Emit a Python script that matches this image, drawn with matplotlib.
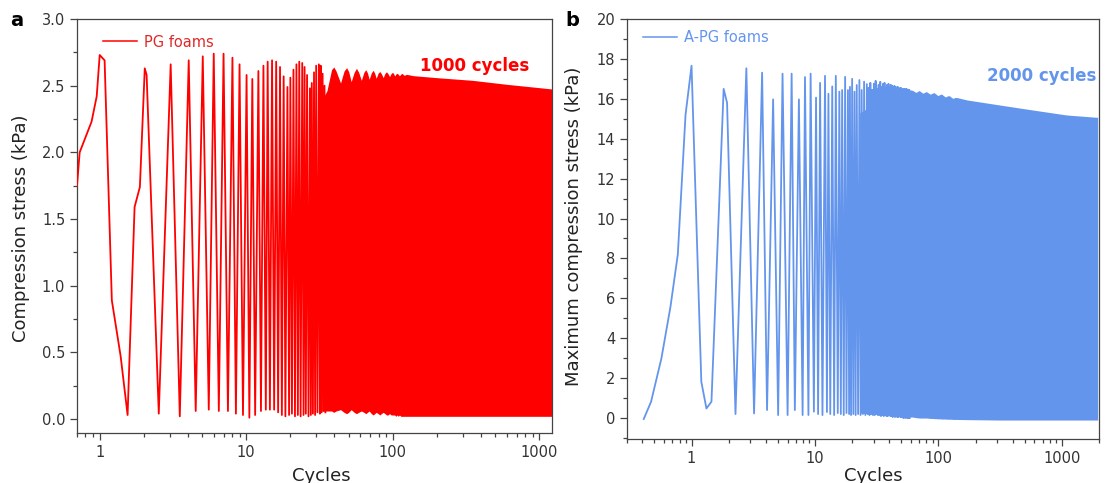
import numpy as np
import matplotlib
matplotlib.use("Agg")
import matplotlib.pyplot as plt
from matplotlib.ticker import LogLocator, NullFormatter, FuncFormatter, MultipleLocator

# ---------------- data : panel a (PG foams) ----------------
pg_ramp_t = [0.70, 0.73, 0.88, 0.954, 1.0, 1.08, 1.21, 1.39, 1.55, 1.73, 1.88, 2.03, 2.09]
pg_ramp_v = [1.75, 2.00, 2.23, 2.42, 2.73, 2.69, 0.89, 0.47, 0.03, 1.59, 1.74, 2.63, 2.58]
pg_peak_t = [3.05, 4.05, 5.05, 6.0, 7.0, 8.05, 9.0, 10.05, 11.0, 12.1, 13.1, 14.0, 15.0, 16.0,
             17.0, 18.0, 19.1, 20.0, 21.0, 22.0, 23.0, 24.1, 25.0, 26.0, 27.2, 28.0, 29.0,
             30.0, 31.3, 32.2, 33.2, 34.2]
pg_peak_v = [2.66, 2.69, 2.72, 2.74, 2.74, 2.71, 2.66, 2.58, 2.55, 2.61, 2.65, 2.68, 2.69, 2.68,
             2.64, 2.57, 2.49, 2.56, 2.62, 2.66, 2.68, 2.67, 2.64, 2.58, 2.48, 2.52, 2.60,
             2.65, 2.66, 2.65, 2.59, 2.50]
pg_trough_t = [2.53, 3.52, 4.52, 5.55, 6.5, 7.5, 8.5, 9.5, 10.5, 11.5, 12.6, 13.6, 14.5, 15.5,
               16.5, 17.5, 18.5, 19.6, 20.5, 21.5, 22.5, 23.5, 24.6, 25.5, 26.6, 27.6, 28.5,
               29.5, 30.6, 31.8, 32.7, 33.7, 34.7]
pg_trough_v = [0.04, 0.02, 0.06, 0.07, 0.06, 0.06, 0.04, 0.03, 0.01, 0.03, 0.06, 0.07, 0.07, 0.07,
               0.05, 0.03, 0.02, 0.03, 0.04, 0.02, 0.03, 0.02, 0.03, 0.04, 0.02, 0.03, 0.04,
               0.03, 0.05, 0.04, 0.05, 0.06, 0.05]
pg_fill_t = [33, 35.5, 37.0, 38.2, 39.6, 41.0, 44, 46.5, 48.4, 50.0, 52, 54.5, 56.5, 58.5,
             61, 63.5, 65.4, 67.2, 69, 71.5, 73.5, 75.3, 77, 79.5, 81.5, 83.5, 86, 88.5,
             90.6, 92.7, 95, 97.5, 99.6, 101.3, 103, 105, 107, 109, 111, 113.5, 116, 118,
             120, 124, 138, 200, 350, 600, 1000, 1220]
pg_fill_top = [2.40, 2.46, 2.55, 2.62, 2.64, 2.61, 2.52, 2.61, 2.635, 2.605, 2.53, 2.60, 2.63,
               2.60, 2.54, 2.60, 2.62, 2.595, 2.548, 2.598, 2.615, 2.592, 2.555, 2.595, 2.606,
               2.59, 2.56, 2.593, 2.604, 2.59, 2.568, 2.592, 2.60, 2.59, 2.573, 2.587, 2.593,
               2.585, 2.574, 2.587, 2.592, 2.582, 2.578, 2.585, 2.575, 2.56, 2.54, 2.51,
               2.485, 2.475]
pg_fill_bot = [0.06, 0.06, 0.06, 0.06, 0.05, 0.06, 0.07, 0.05, 0.04, 0.05, 0.07, 0.05, 0.04,
               0.05, 0.06, 0.05, 0.04, 0.05, 0.06, 0.04, 0.03, 0.04, 0.05, 0.04, 0.03, 0.04,
               0.05, 0.04, 0.03, 0.03, 0.04, 0.03, 0.03, 0.03, 0.03, 0.02, 0.03, 0.02, 0.03,
               0.02, 0.02, 0.02, 0.02, 0.02, 0.02, 0.02, 0.02, 0.02, 0.02, 0.02]

# ---------------- data : panel b (A-PG foams) ----------------
apg_ramp_t = [0.41, 0.47, 0.57, 0.675, 0.774, 0.894, 1.0, 1.2, 1.32, 1.45, 1.82, 1.94]
apg_ramp_v = [-0.05, 0.82, 2.99, 5.58, 8.2, 15.2, 17.66, 1.82, 0.48, 0.82, 16.5, 15.8]
apg_peak_t = [2.78, 3.73, 4.58, 5.46, 6.47, 7.41, 8.30, 9.22, 10.2, 11.0, 12.06, 12.85, 13.8,
              14.75, 15.75, 16.6, 17.55, 18.5, 19.2, 20.0, 20.9, 21.8, 22.9, 23.9, 25.0, 26.3,
              27.2, 28.1, 29.0, 30.0, 31.0, 31.9, 32.8, 33.8, 34.7, 35.6, 36.6, 37.5, 38.4,
              39.4, 40.3, 41.2, 42.2, 43.1, 44.0, 45.0, 45.9, 46.8, 47.8, 48.7, 49.6, 50.6,
              51.5, 52.4, 53.4, 54.3, 55.2, 56.2, 57.1, 58.0]
apg_peak_v = [17.53, 17.31, 15.97, 17.26, 17.26, 15.97, 17.09, 17.26, 16.06, 16.8, 17.15, 16.25,
              16.62, 17.15, 16.36, 16.44, 17.1, 16.44, 16.6, 17.0, 16.36, 16.69, 16.94, 16.44,
              16.86, 16.74,
              16.55, 16.8, 16.45, 16.75, 16.9, 16.5, 16.7, 16.85, 16.6, 16.75, 16.8, 16.55,
              16.7, 16.75, 16.6, 16.7, 16.65, 16.55, 16.65, 16.6, 16.5, 16.6, 16.55, 16.5,
              16.55, 16.5, 16.45, 16.5, 16.5, 16.45, 16.5, 16.45, 16.45, 16.45]
apg_trough_t = [2.27, 3.21, 4.09, 5.03, 6.0, 6.87, 7.94, 8.85, 9.8, 10.6, 11.5, 12.5, 13.3, 14.3,
                15.3, 16.2, 17.1, 18.0, 18.9, 19.6, 20.45, 21.35, 22.35, 23.4, 24.45, 25.6, 26.8,
                27.65, 28.55, 29.5, 30.5, 31.45, 32.35, 33.3, 34.25, 35.15, 36.1, 37.05, 37.95,
                38.9, 39.85, 40.75, 41.7, 42.65, 43.55, 44.5, 45.45, 46.35, 47.3, 48.25, 49.15,
                50.1, 51.05, 51.95, 52.9, 53.85, 54.75, 55.7, 56.65, 57.55, 58.5]
apg_trough_v = [0.2, 0.23, 0.4, 0.15, 0.15, 0.4, 0.15, 0.15, 0.32, 0.2, 0.15, 0.3, 0.2, 0.15,
                0.25, 0.2, 0.15, 0.25, 0.2, 0.15, 0.2, 0.15, 0.2, 0.15, 0.2, 0.15, 0.2,
                0.15, 0.2, 0.15, 0.15, 0.2, 0.15, 0.15, 0.1, 0.15, 0.1, 0.15, 0.1, 0.1, 0.15,
                0.1, 0.1, 0.05, 0.1, 0.05, 0.1, 0.05, 0.05, 0.1, 0.05, 0.05, 0.05, 0.0, 0.05,
                0.0, 0.05, 0.0, 0.0, 0.0, 0.0]
apg_fill_t = [23, 28, 33.7, 40, 49, 59, 62, 64, 66, 68, 70, 72.5, 75, 77.5, 80, 83, 86, 89,
              92, 95.5, 99, 102.5, 106, 110, 114, 118, 122, 126.5, 131, 135.5, 140, 171, 314,
              580, 1090, 1950]
apg_fill_top = [15.3, 15.6, 15.8, 16.0, 16.2, 16.45, 16.42, 16.36, 16.32, 16.38, 16.41, 16.34,
                16.28, 16.33, 16.36, 16.29, 16.23, 16.28, 16.31, 16.24, 16.16, 16.21, 16.24,
                16.16, 16.09, 16.14, 16.16, 16.09, 16.02, 16.06, 16.07, 15.94, 15.69, 15.44,
                15.19, 15.07]
apg_fill_bot = [0.25, 0.2, 0.2, 0.15, 0.1, 0.05, 0.05, 0.03, 0.02, 0.01, 0.0, 0.0, 0.0, 0.0,
                0.0, -0.01, -0.02, -0.02, -0.03, -0.03, -0.04, -0.04, -0.05, -0.05, -0.05,
                -0.06, -0.06, -0.06, -0.07, -0.07, -0.07, -0.08, -0.1, -0.1, -0.1, -0.1]

RED = "#FF0000"
BLUE = "#6495ED"
AXC = "#444444"
LW = 1.3


def wave(ramp_t, ramp_v, peak_t, peak_v, trough_t, trough_v):
    t = list(ramp_t)
    v = list(ramp_v)
    for i in range(len(peak_t)):
        t += [trough_t[i], peak_t[i]]
        v += [trough_v[i], peak_v[i]]
    t.append(trough_t[-1])
    v.append(trough_v[-1])
    return t, v


plt.rcParams["font.family"] = ["DejaVu Sans"]
fig = plt.figure(figsize=(11.08, 4.83), dpi=100)
axa = fig.add_axes([77 / 1108, 1 - 433 / 483, 475 / 1108, 414 / 483])
axb = fig.add_axes([627 / 1108, 1 - 439 / 483, 472 / 1108, 420 / 483])


def style(ax, xlim, ylim, ymaj, ymin, yfmt):
    ax.set_xscale("log")
    ax.set_xlim(*xlim)
    ax.set_ylim(*ylim)
    ax.xaxis.set_major_locator(LogLocator(base=10, numticks=10))
    ax.xaxis.set_minor_locator(LogLocator(base=10, subs=np.arange(2, 10), numticks=20))
    ax.xaxis.set_major_formatter(FuncFormatter(lambda x, _: f"{x:g}"))
    ax.xaxis.set_minor_formatter(NullFormatter())
    ax.yaxis.set_major_locator(MultipleLocator(ymaj))
    ax.yaxis.set_minor_locator(MultipleLocator(ymin))
    ax.yaxis.set_major_formatter(FuncFormatter(yfmt))
    ax.tick_params(which="both", direction="out", colors=AXC, labelcolor="#333333",
                   top=False, right=False, width=0.9)
    ax.tick_params(which="major", length=5, labelsize=10.5)
    ax.tick_params(which="minor", length=3)
    for s in ax.spines.values():
        s.set_color(AXC)
        s.set_linewidth(0.9)


# panel a
t, v = wave(pg_ramp_t, pg_ramp_v, pg_peak_t, pg_peak_v, pg_trough_t, pg_trough_v)
axa.fill_between(pg_fill_t, pg_fill_bot, pg_fill_top, color=RED, lw=0, zorder=2)
axa.plot(t, v, color=RED, lw=LW, zorder=3, label="PG foams")
style(axa, (0.70, 1220), (-0.105, 3.0), 0.5, 0.25, lambda y, _: f"{y:.1f}")
axa.set_xlabel("Cycles", fontsize=13, color="#222222")
axa.xaxis.set_label_coords(0.514, -0.082)
axa.set_ylabel("Compression stress (kPa)", fontsize=13, color="#222222")
axa.yaxis.set_label_coords(-0.099, 0.495)
leg = axa.legend(loc="center left", bbox_to_anchor=(0.0547, 0.9444), frameon=False,
                 borderpad=0, borderaxespad=0, handlelength=2.35, handletextpad=0.45,
                 fontsize=10.5, labelcolor="#E02828")
for ln in leg.get_lines():
    ln.set_linewidth(1.1)
axa.text(0.838, 0.886, "1000 cycles", transform=axa.transAxes, ha="center", va="center",
         fontsize=12, fontweight="bold", color=RED)

# panel b
t, v = wave(apg_ramp_t, apg_ramp_v, apg_peak_t, apg_peak_v, apg_trough_t, apg_trough_v)
axb.fill_between(apg_fill_t, apg_fill_bot, apg_fill_top, color=BLUE, lw=0, zorder=2)
axb.plot(t, v, color=BLUE, lw=LW, zorder=3, label="A-PG foams")
style(axb, (0.30, 2000), (-1.05, 20), 2, 1, lambda y, _: f"{y:.0f}")
axb.set_xlabel("Cycles", fontsize=13, color="#222222")
axb.xaxis.set_label_coords(0.521, -0.067)
axb.set_ylabel("Maximum compression stress (kPa)", fontsize=13, color="#222222")
axb.yaxis.set_label_coords(-0.093, 0.507)
legb = axb.legend(loc="center left", bbox_to_anchor=(0.0339, 0.9548), frameon=False,
                  borderpad=0, borderaxespad=0, handlelength=2.35, handletextpad=0.45,
                  fontsize=10.5, labelcolor=BLUE)
for ln in legb.get_lines():
    ln.set_linewidth(1.1)
axb.text(0.878, 0.864, "2000 cycles", transform=axb.transAxes, ha="center", va="center",
         fontsize=12, fontweight="bold", color=BLUE)

fig.text(17 / 1108, 1 - 20 / 483, "a", fontsize=14, fontweight="bold", ha="center", va="center")
fig.text(572 / 1108, 1 - 20 / 483, "b", fontsize=14, fontweight="bold", ha="center", va="center")

fig.savefig("out.png", dpi=100)
